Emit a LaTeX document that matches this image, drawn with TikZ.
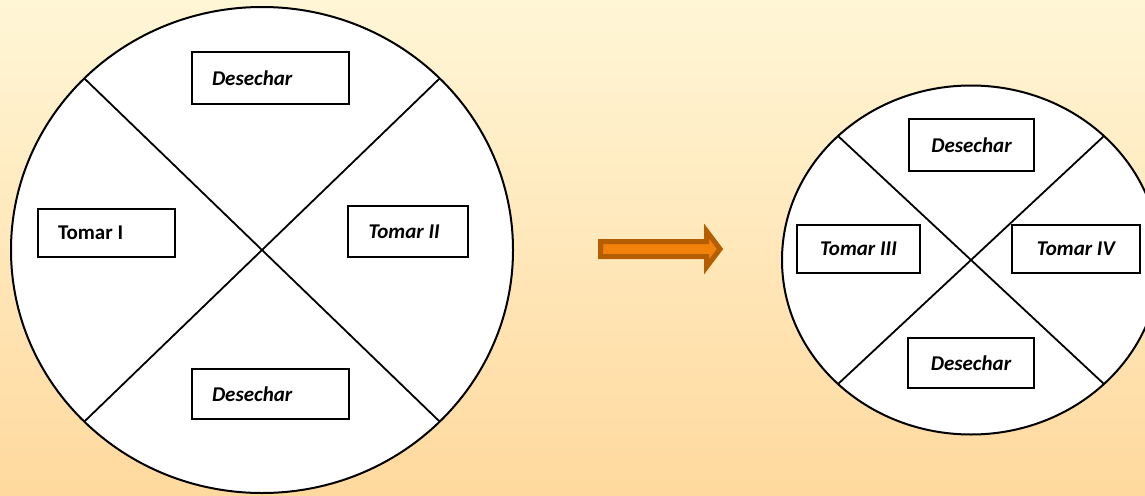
\documentclass[tikz,border=0pt]{standalone}
\usepackage{fontspec}
\setmainfont{Carlito}
\usetikzlibrary{shapes.geometric}
\definecolor{bgtop}{HTML}{FFF6D6}
\definecolor{bgbot}{HTML}{FFD99E}
\definecolor{arrowfill}{HTML}{F2810C}
\definecolor{arrowedge}{HTML}{B55E00}
\tikzset{
  wheel/.style={ellipse, draw=black, line width=2pt, fill=white, inner sep=0pt, outer sep=0pt},
  divider/.style={draw=black, line width=1.8pt},
  labelbox/.style={rectangle, draw=black, line width=1.9pt, fill=white, inner ysep=0pt,
    font=\fontsize{21}{24}\selectfont\bfseries},
  leftbox/.style={labelbox, inner xsep=20pt, align=flush left},
  midbox/.style={labelbox, inner xsep=0pt, align=center},
}
\begin{document}
\begin{tikzpicture}[x=1pt,y=-1pt]
  % background
  \shade[top color=bgtop, bottom color=bgbot] (0,0) rectangle (1145,495);
  \useasboundingbox (0,0) rectangle (1145,495);
  \clip (0,0) rectangle (1145,495);

  % first wheel
  \node[wheel, minimum width=502pt, minimum height=486pt] (w1) at (262,250) {};
  \draw[divider] (w1.136) -- (w1.-44);
  \draw[divider] (w1.44) -- (w1.-136);

  \node[leftbox, text width=117pt, minimum height=52pt] (d1) at (270.5,78) {\itshape Desechar};
  \node[leftbox, text width=97pt, minimum height=48pt] (t1) at (106.5,233) {Tomar I};
  \node[leftbox, text width=79pt, minimum height=51pt, inner xsep=20.5pt] (t2) at (408,231.5) {\itshape Tomar II};
  \node[leftbox, text width=117pt, minimum height=50pt] (d2) at (270.5,394) {\itshape Desechar};

  % arrow between the wheels
  \draw[line width=5pt, draw=arrowedge, fill=arrowfill, line join=miter]
    (600.5,241.5) -- (706.5,241.5) -- (706.5,231) -- (720,249) -- (706.5,267)
    -- (706.5,256.5) -- (600.5,256.5) -- cycle;

  % second wheel
  \node[wheel, minimum width=378pt, minimum height=349pt] (w2) at (971,260) {};
  \draw[divider] (w2.137) -- (w2.-43);
  \draw[divider] (w2.43) -- (w2.-137);

  \node[midbox, minimum width=125pt, minimum height=52pt] (d3) at (971.5,145) {\itshape Desechar};
  \node[midbox, minimum width=123pt, minimum height=48pt] (t3) at (858.5,249) {\itshape Tomar III};
  \node[midbox, minimum width=128pt, minimum height=48pt] (t4) at (1076,249) {\itshape Tomar IV};
  \node[midbox, minimum width=126pt, minimum height=50pt] (d4) at (971,363) {\itshape Desechar};
\end{tikzpicture}
\end{document}
